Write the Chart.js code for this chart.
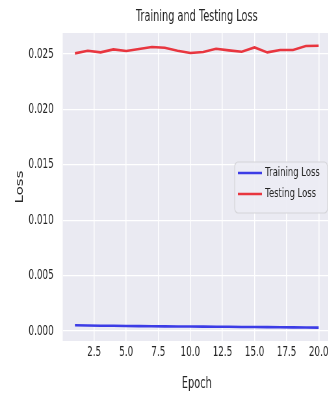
<!DOCTYPE html>
<html>
<head>
<meta charset="utf-8">
<script src="https://cdn.jsdelivr.net/npm/chart.js@4"></script>
<style>
  html, body { margin: 0; padding: 0; background: #ffffff; overflow: hidden; width: 328px; height: 393px; }
  /* the figure is drawn wide and then compressed horizontally */
  #wrap { position: absolute; left: 0; top: 0; width: 512px; height: 393px; transform: scaleX(0.65); transform-origin: 0 0; }
</style>
</head>
<body>
<div id="wrap"><canvas id="c"></canvas></div>
<script>
const epochs = [1, 2, 3, 4, 5, 6, 7, 8, 9, 10, 11, 12, 13, 14, 15, 16, 17, 18, 19, 20];
const trainingLoss = [0.00052, 0.00050, 0.00048, 0.00047, 0.00045, 0.00044, 0.00043, 0.00042, 0.00041, 0.00041,
                      0.00040, 0.00039, 0.00038, 0.00037, 0.00036, 0.00035, 0.00034, 0.00033, 0.00032, 0.00031];
const testingLoss = [0.02506, 0.02530, 0.02515, 0.02542, 0.02527, 0.02545, 0.02563, 0.02557, 0.02530, 0.02509,
                     0.02518, 0.02548, 0.02533, 0.02521, 0.02560, 0.02515, 0.02536, 0.02536, 0.02572, 0.02575];
const xTickValues = [2.5, 5.0, 7.5, 10.0, 12.5, 15.0, 17.5, 20.0];
const yTickValues = [0.000, 0.005, 0.010, 0.015, 0.020, 0.025];
const seriesNames = ['Training Loss', 'Testing Loss'];

const TEXT = '#262626';
const FONT = '"DejaVu Sans", sans-serif';

// axes face colour behind the grid
const plotBackground = {
  id: 'plotBackground',
  beforeDraw(chart) {
    const { ctx, chartArea: a } = chart;
    ctx.save();
    ctx.fillStyle = '#eaeaf2';
    ctx.fillRect(a.left, a.top, a.right - a.left, a.bottom - a.top);
    ctx.restore();
  }
};

// framed legend inside the axes, right side
const boxLegend = {
  id: 'boxLegend',
  afterDraw(chart) {
    const { ctx } = chart;
    const x = 361, y = 162, w = 143, h = 51, r = 5;
    ctx.save();
    ctx.beginPath();
    ctx.roundRect(x, y, w, h, r);
    ctx.fillStyle = 'rgba(236,236,244,0.9)';
    ctx.fill();
    ctx.strokeStyle = '#d4d4d8';
    ctx.lineWidth = 1.2;
    ctx.stroke();
    chart.data.datasets.forEach((ds, i) => {
      const yy = y + 11 + i * 21;
      ctx.beginPath();
      ctx.moveTo(x + 5, yy);
      ctx.lineTo(x + 42, yy);
      ctx.strokeStyle = ds.borderColor;
      ctx.lineWidth = 2.6;
      ctx.stroke();
      ctx.fillStyle = TEXT;
      ctx.font = '13px ' + FONT;
      ctx.textBaseline = 'middle';
      ctx.textAlign = 'left';
      ctx.fillText(ds.label, x + 47, yy);
    });
    ctx.restore();
  }
};

new Chart(document.getElementById('c'), {
  type: 'line',
  data: {
    datasets: [
      {
        label: seriesNames[0],
        data: epochs.map((e, i) => ({ x: e, y: trainingLoss[i] })),
        borderColor: '#3c3ce6',
        borderWidth: 2.6,
        pointRadius: 0,
        tension: 0
      },
      {
        label: seriesNames[1],
        data: epochs.map((e, i) => ({ x: e, y: testingLoss[i] })),
        borderColor: '#e8363f',
        borderWidth: 2.6,
        pointRadius: 0,
        tension: 0
      }
    ]
  },
  options: {
    responsive: true,
    maintainAspectRatio: false,
    devicePixelRatio: 1,
    animation: false,
    layout: { padding: { left: 0, right: 3, top: 0, bottom: 0 } },
    plugins: {
      legend: { display: false },
      tooltip: { enabled: false },
      title: {
        display: true,
        text: 'Training and Testing Loss',
        fullSize: false,
        color: TEXT,
        font: { family: FONT, size: 15, weight: 'normal' },
        padding: { top: 8, bottom: 7 }
      }
    },
    scales: {
      x: {
        type: 'linear',
        min: 0.05,
        max: 20.95,
        afterBuildTicks(scale) { scale.ticks = xTickValues.map(v => ({ value: v })); },
        afterFit(scale) { scale.height = 52; },
        border: { display: false },
        grid: { color: '#ffffff', lineWidth: 1.5, drawTicks: false },
        ticks: {
          color: TEXT,
          font: { family: FONT, size: 13.5 },
          padding: 3,
          maxRotation: 0,
          autoSkip: false,
          callback: v => Number(v).toFixed(1)
        },
        title: {
          display: true,
          text: 'Epoch',
          color: TEXT,
          font: { family: FONT, size: 15 },
          padding: { top: 0, bottom: 0 }
        }
      },
      y: {
        type: 'linear',
        min: -0.0009,
        max: 0.0269,
        afterBuildTicks(scale) { scale.ticks = yTickValues.map(v => ({ value: v })); },
        afterFit(scale) { scale.width = 96.5; },
        border: { display: false },
        grid: { color: '#ffffff', lineWidth: 1.3, drawTicks: false },
        ticks: {
          color: TEXT,
          font: { family: FONT, size: 13.5 },
          padding: 14,
          autoSkip: false,
          callback: v => Number(v).toFixed(3)
        },
        title: {
          display: true,
          text: 'Loss',
          color: TEXT,
          font: { family: FONT, size: 15 },
          padding: { top: 22, bottom: 0 }
        }
      }
    }
  },
  plugins: [plotBackground, boxLegend]
});
</script>
</body>
</html>
